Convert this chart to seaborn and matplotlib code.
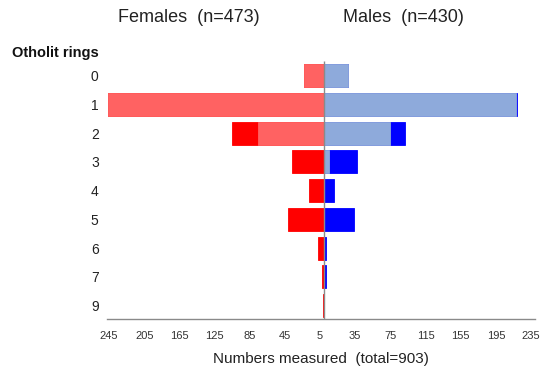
import matplotlib
matplotlib.use('Agg')
import matplotlib.pyplot as plt
import seaborn as sns
import pandas as pd

# ---- data ----
rings = ['0', '1', '2', '3', '4', '5', '6', '7', '9']
female_light = [22, 245, 75, 0, 0, 0, 0, 0, 0]
female_dark = [0, 0, 29, 36, 17, 40, 6, 2, 1]
male_light = [28, 219, 76, 6, 0, 0, 0, 0, 0]
male_dark = [0, 1, 17, 32, 12, 35, 3, 3, 0]
tick_pos = [-244, -204, -164, -124, -84, -44, -4, 36, 76, 116, 156, 196, 236]
tick_labels = ['245', '205', '165', '125', '85', '45', '5',
               '35', '75', '115', '155', '195', '235']

C_FL = '#ff6262'
C_FD = '#ff0000'
C_ML = '#8eaadb'
C_MD = '#0000ff'
GREY = '#8a8a8a'

sns.set_theme(style='white')
plt.rcParams['font.family'] = ['Liberation Sans', 'DejaVu Sans']

df = pd.DataFrame({
    'ring': rings,
    'f_total': [-(a + b) for a, b in zip(female_light, female_dark)],
    'f_light': [-a for a in female_light],
    'm_total': [a + b for a, b in zip(male_light, male_dark)],
    'm_light': male_light,
})

fig = plt.figure(figsize=(5.41, 3.78), dpi=100)
ax = fig.add_axes([107 / 541, 1 - 319 / 378, (535 - 107) / 541, (319 - 58) / 378])

for col, color in [('f_total', C_FD), ('f_light', C_FL),
                   ('m_total', C_MD), ('m_light', C_ML)]:
    sns.barplot(data=df, x=col, y='ring', orient='h', color=color,
                saturation=1, width=0.8, errorbar=None, ax=ax,
                edgecolor=color, linewidth=0.6, order=rings)

ax.vlines(0, -0.5, 8.5, color=GREY, lw=1, zorder=5)

ax.set_xlim(-246.3, 240.5)
ax.set_ylim(8.47, -0.62)
ax.set_xticks(tick_pos)
ax.set_xticklabels(tick_labels)
for s in ['left', 'right', 'top']:
    ax.spines[s].set_visible(False)
ax.spines['bottom'].set_color(GREY)
ax.spines['bottom'].set_linewidth(1)
ax.tick_params(axis='x', direction='out', length=3.5, width=0.8, color=GREY,
               labelsize=8, labelcolor='#333333', pad=5)
ax.tick_params(axis='y', length=0, labelsize=10, labelcolor='#222222', pad=6)
ax.set_ylabel('')
ax.set_xlabel('Numbers measured  (total=903)', fontsize=11, color='#222222',
              labelpad=8)

fig.text(189 / 541, 1 - 17 / 378, 'Females  (n=473)', fontsize=13,
         ha='center', va='center', color='#222222')
fig.text(403 / 541, 1 - 17 / 378, 'Males  (n=430)', fontsize=13,
         ha='center', va='center', color='#222222')
fig.text(12 / 541, 1 - 53 / 378, 'Otholit rings', fontsize=10.5,
         fontweight='bold', ha='left', va='center', color='#111111')

fig.savefig('out.png', dpi=100)
